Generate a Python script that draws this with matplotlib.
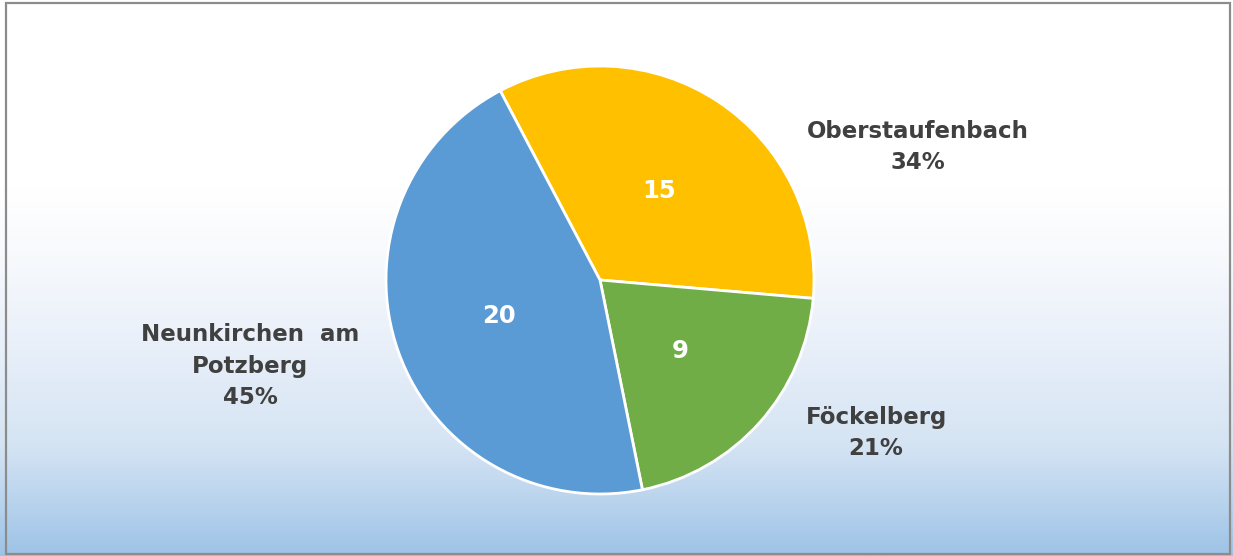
import numpy as np
import matplotlib.pyplot as plt
from matplotlib.colors import LinearSegmentedColormap
from matplotlib.patches import Rectangle

# data
places = ['Oberstaufenbach', 'Föckelberg', 'Neunkirchen  am\nPotzberg']
counts = [15, 9, 20]
pct_labels = ['34%', '21%', '45%']
colors = ['#FFC000', '#70AD47', '#5B9BD5']

W, H = 1233, 556
fig = plt.figure(figsize=(W / 100, H / 100), dpi=100)

# background gradient (white at top, light blue at bottom)
bg = fig.add_axes([0, 0, 1, 1], zorder=0)
cmap = LinearSegmentedColormap.from_list(
    'bg', [(0.0, '#9DC3E6'), (0.1, '#BAD4EE'), (0.2, '#D5E4F3'), (0.4, '#EBF1FA'),
           (0.55, '#F8FAFD'), (0.66, '#FFFFFF'), (1.0, '#FFFFFF')])
grad = np.linspace(0, 1, 256).reshape(-1, 1)
bg.imshow(grad, aspect='auto', cmap=cmap, origin='lower', extent=[0, 1, 0, 1])
bg.add_patch(Rectangle((5.5 / W, 2.5 / H), 1224 / W, 551 / H, fill=False,
                       edgecolor='#8C8C8C', linewidth=1.6, transform=bg.transAxes))
bg.set_xlim(0, 1)
bg.set_ylim(0, 1)
bg.axis('off')

# pie axes: centre (600, 280) px, radius 214 px
cx, cy, r = 600, 280, 214
ax = fig.add_axes([(cx - r) / W, (H - cy - r) / H, 2 * r / W, 2 * r / H], zorder=1)
ax.patch.set_alpha(0)
wedges, texts = ax.pie(counts, colors=colors, startangle=117.8, counterclock=False,
                       radius=1, labels=[str(c) for c in counts], labeldistance=0.5,
                       wedgeprops=dict(edgecolor='white', linewidth=2))
for t in texts:
    t.set_color('white')
    t.set_fontsize(17.5)
    t.set_fontweight('bold')
    t.set_ha('center')
    t.set_va('center')
ax.set_xlim(-1.0, 1.0)
ax.set_ylim(-1.0, 1.0)
ax.axis('off')

# outer category labels
label_pos = [(918, 147), (876, 433), (250, 366)]
for name, pct, (x, y) in zip(places, pct_labels, label_pos):
    fig.text(x / W, 1 - y / H, name + '\n' + pct, ha='center', va='center',
             fontsize=16.5, fontweight='bold', color='#404040', linespacing=1.45)

fig.savefig('out.png', dpi=100)
